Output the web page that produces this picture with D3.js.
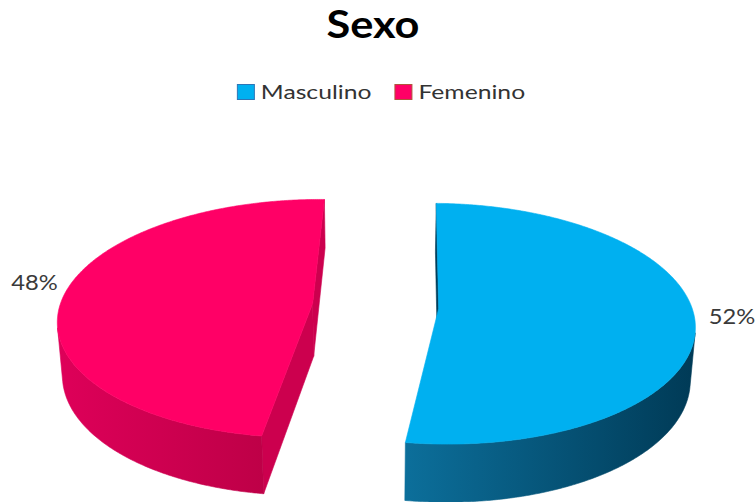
<!DOCTYPE html>
<html><head><meta charset="utf-8">
<script src="https://cdn.jsdelivr.net/npm/d3@7"></script>
<style>body{margin:0;background:#fff} svg{display:block}</style>
</head><body>
<svg id="chart" width="756" height="502"></svg>
<script>
const categories = ["Masculino", "Femenino"];
const values = [52, 48];
const valueLabels = ["52%", "48%"];
const topColors = ["#00B0F0", "#FF0066"];
const wallColors = [["#0C6F9B", "#003A56"], ["#DE0059", "#BE0047"]];
const radialColors = ["#003F5C", "#CC004E"];
const legendBorders = ["#2E75B6", "#B0553A"];
const titleText = "Sexo";

const svg = d3.select("#chart");
const defs = svg.append("defs");

// perspective camera looking down on the pie
const phi = Math.asin(0.466), dist = 7, focal = 1770, cx = 375.5, cy = 306;
const thick = 0.24, explode = 0.25, rot = 1.2 * Math.PI / 180;
const sinP = Math.sin(phi), cosP = Math.cos(phi);
const cam = [0, dist * cosP, dist * sinP];
function depth(X, Y, Z) { return dist - Y * cosP - Z * sinP; }
function project(X, Y, Z) {
  const d = depth(X, Y, Z);
  return [cx + focal * X / d, cy + focal * (Y * sinP - Z * cosP) / d];
}
function visible(n, p) {
  return n[0] * (cam[0] - p[0]) + n[1] * (cam[1] - p[1]) + n[2] * (cam[2] - p[2]) > 0;
}
const line = d3.line().curve(d3.curveLinearClosed);

const arcs = d3.pie().sort(null).value(d => d)(values);
const gPie = svg.append("g");
const FONT = "Lato, 'Open Sans', sans-serif";

arcs.forEach((a, i) => {
  const a0 = -Math.PI / 2 + rot + a.startAngle;
  const a1 = -Math.PI / 2 + rot + a.endAngle;
  const mid = (a0 + a1) / 2;
  const ox = explode * Math.cos(mid), oy = explode * Math.sin(mid);
  const steps = Math.ceil((a1 - a0) / (Math.PI / 360));
  const angs = d3.range(steps + 1).map(k => a0 + (a1 - a0) * k / steps);
  const rim = (t, z) => project(ox + Math.cos(t), oy + Math.sin(t), z);
  const faces = [];

  // outer curved wall, grouped in visible runs
  let run = [];
  const flush = () => {
    if (run.length > 1) {
      const tops = run.map(t => rim(t, 0));
      const bots = run.map(t => rim(t, -thick)).reverse();
      const tm = run[Math.floor(run.length / 2)];
      faces.push({ pts: tops.concat(bots), kind: "outer",
        dep: depth(ox + Math.cos(tm), oy + Math.sin(tm), -thick / 2) });
    }
    run = [];
  };
  for (let k = 0; k < steps; k++) {
    const tm = (angs[k] + angs[k + 1]) / 2;
    const n = [Math.cos(tm), Math.sin(tm), 0];
    const p = [ox + Math.cos(tm), oy + Math.sin(tm), -thick / 2];
    if (visible(n, p)) {
      if (!run.length) run.push(angs[k]);
      run.push(angs[k + 1]);
    } else flush();
  }
  flush();

  // radial walls
  [[a0, [Math.sin(a0), -Math.cos(a0), 0]], [a1, [-Math.sin(a1), Math.cos(a1), 0]]].forEach(([t, n]) => {
    const p = [ox + 0.5 * Math.cos(t), oy + 0.5 * Math.sin(t), -thick / 2];
    if (visible(n, p)) {
      faces.push({ kind: "radial", dep: depth(...p), pts: [
        project(ox, oy, 0), rim(t, 0), rim(t, -thick), project(ox, oy, -thick)] });
    }
  });

  faces.sort((f, g) => g.dep - f.dep);
  faces.forEach((f, j) => {
    let fill = radialColors[i];
    if (f.kind === "outer") {
      const xs = f.pts.map(p => p[0]);
      const id = `wall-${i}-${j}`;
      const gr = defs.append("linearGradient").attr("id", id)
        .attr("gradientUnits", "userSpaceOnUse")
        .attr("x1", d3.min(xs)).attr("x2", d3.max(xs)).attr("y1", 0).attr("y2", 0);
      gr.append("stop").attr("offset", 0).attr("stop-color", wallColors[i][0]);
      gr.append("stop").attr("offset", 1).attr("stop-color", wallColors[i][1]);
      fill = `url(#${id})`;
    }
    gPie.append("path").attr("d", line(f.pts)).attr("fill", fill)
      .attr("stroke", fill).attr("stroke-width", 0.6).attr("stroke-linejoin", "round");
  });

  const topPts = [project(ox, oy, 0)].concat(angs.map(t => rim(t, 0)));
  gPie.append("path").attr("d", line(topPts)).attr("fill", topColors[i])
    .attr("stroke", topColors[i]).attr("stroke-width", 0.6).attr("stroke-linejoin", "round");

  // value label beside the rim at the slice's middle angle
  const lp = rim(mid, 0);
  const right = Math.cos(mid) > 0;
  const lx = lp[0] + (right ? 14 : -7), ly = lp[1] + (right ? 6 : -4);
  svg.append("text").text(valueLabels[i])
    .attr("transform", `translate(${lx},${ly}) scale(1.13,1)`)
    .attr("text-anchor", right ? "start" : "end")
    .attr("font-family", FONT).attr("font-size", 21)
    .attr("fill", "#3a3a3a");
});

// title
svg.append("text").text(titleText)
  .attr("transform", "translate(373,38) scale(1.14,1)")
  .attr("text-anchor", "middle").attr("font-family", FONT)
  .attr("font-weight", 700).attr("font-size", 38).attr("fill", "#000");

// legend
const legend = svg.append("g");
let lx = 0;
categories.forEach((c, i) => {
  const g = legend.append("g").attr("transform", `translate(${lx},0)`);
  g.append("rect").attr("x", 0.5).attr("y", -14.5).attr("width", 17).attr("height", 15)
    .attr("fill", topColors[i]).attr("stroke", legendBorders[i]).attr("stroke-width", 1);
  const t = g.append("text").text(c)
    .attr("font-family", FONT).attr("font-size", 19).attr("fill", "#333");
  const sx = 1.3;
  t.attr("transform", `translate(24,0) scale(${sx},1)`);
  lx += 24 + t.node().getComputedTextLength() * sx + 23;
});
const lw = lx - 23;
legend.attr("transform", `translate(${381 - lw / 2},99)`);
</script>
</body></html>
